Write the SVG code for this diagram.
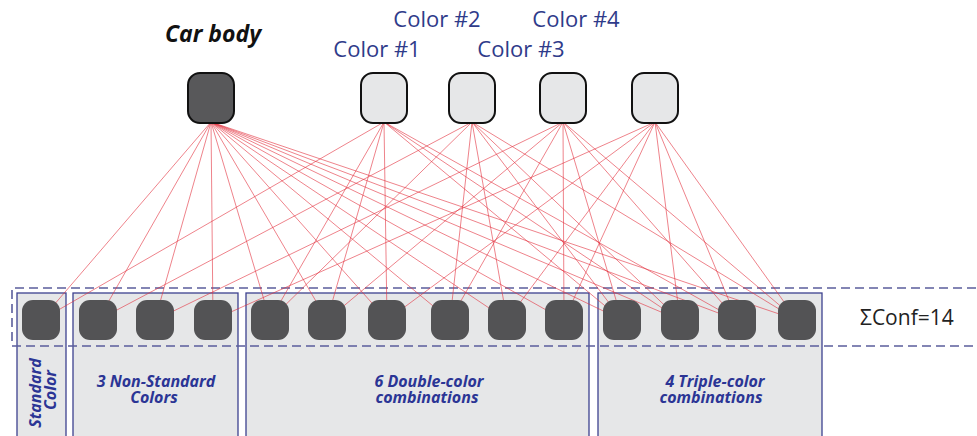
<svg xmlns="http://www.w3.org/2000/svg" width="977" height="436" viewBox="0 0 977 436">
  <style>
    .bg { fill: #ffffff; }
    .group-box { fill: #e6e7e8; stroke: #3d418f; stroke-width: 1.3; }
    .conf-band { fill: none; stroke: #5b5e9c; stroke-width: 1.6; stroke-dasharray: 9 5; }
    .edge { stroke: #e2313d; stroke-width: 0.75; stroke-opacity: 0.8; fill: none; }
    .top-dark { fill: #58585a; stroke: #111111; stroke-width: 2; }
    .top-light { fill: #e6e7e8; stroke: #111111; stroke-width: 2; }
    .conf { fill: #535355; }
    .title { font-family: "Open Sans", "Liberation Sans", sans-serif; font-weight: bold; font-style: italic; font-size: 23px; fill: #111111; text-anchor: middle; }
    .color-label { font-family: "Open Sans", "Liberation Sans", sans-serif; font-size: 22px; fill: #2f3b8a; text-anchor: middle; }
    .group-label { font-family: "Open Sans", "Liberation Sans", sans-serif; font-weight: bold; font-style: italic; font-size: 16px; fill: #2b3595; text-anchor: middle; }
    .sum { font-family: "Open Sans", "Liberation Sans", sans-serif; font-size: 21px; fill: #222222; }
  </style>

  <rect class="bg" x="0" y="0" width="977" height="436"/>

  <!-- configuration groups -->
  <g id="group-standard">
    <rect class="group-box" x="17" y="293" width="49" height="160"/>
    <text class="group-label" transform="translate(41,393) rotate(-90)">Standard</text>
    <text class="group-label" transform="translate(56,390) rotate(-90)">Color</text>
  </g>
  <g id="group-nonstandard">
    <rect class="group-box" x="73" y="293" width="165" height="160"/>
    <text class="group-label" x="156" y="387">3 Non-Standard</text>
    <text class="group-label" x="154" y="403">Colors</text>
  </g>
  <g id="group-double">
    <rect class="group-box" x="246" y="293" width="343" height="160"/>
    <text class="group-label" x="429" y="387">6 Double-color</text>
    <text class="group-label" x="427" y="403">combinations</text>
  </g>
  <g id="group-triple">
    <rect class="group-box" x="598" y="293" width="224" height="160"/>
    <text class="group-label" x="715" y="387">4 Triple-color</text>
    <text class="group-label" x="711" y="403">combinations</text>
  </g>

  <!-- dashed band around all configurations -->
  <g id="conf-band">
    <path class="conf-band" d="M990,288 H12 V346 H990"/>
    <text class="sum" x="860" y="325">ΣConf=14</text>
  </g>

  <!-- connectors: top nodes to configurations -->
  <g id="connectors">
    <!-- car body to every configuration -->
    <line class="edge" x1="211" y1="122" x2="41" y2="320"/>
    <line class="edge" x1="211" y1="122" x2="98" y2="320"/>
    <line class="edge" x1="211" y1="122" x2="155" y2="320"/>
    <line class="edge" x1="211" y1="122" x2="213" y2="320"/>
    <line class="edge" x1="211" y1="122" x2="270" y2="320"/>
    <line class="edge" x1="211" y1="122" x2="327" y2="320"/>
    <line class="edge" x1="211" y1="122" x2="387" y2="320"/>
    <line class="edge" x1="211" y1="122" x2="450" y2="320"/>
    <line class="edge" x1="211" y1="122" x2="507" y2="320"/>
    <line class="edge" x1="211" y1="122" x2="564" y2="320"/>
    <line class="edge" x1="211" y1="122" x2="622" y2="320"/>
    <line class="edge" x1="211" y1="122" x2="680" y2="320"/>
    <line class="edge" x1="211" y1="122" x2="737" y2="320"/>
    <line class="edge" x1="211" y1="122" x2="797" y2="320"/>
    <!-- color #1 -->
    <line class="edge" x1="384" y1="122" x2="41" y2="320"/>
    <line class="edge" x1="384" y1="122" x2="270" y2="320"/>
    <line class="edge" x1="384" y1="122" x2="327" y2="320"/>
    <line class="edge" x1="384" y1="122" x2="387" y2="320"/>
    <line class="edge" x1="384" y1="122" x2="622" y2="320"/>
    <line class="edge" x1="384" y1="122" x2="680" y2="320"/>
    <line class="edge" x1="384" y1="122" x2="737" y2="320"/>
    <!-- color #2 -->
    <line class="edge" x1="472" y1="122" x2="98" y2="320"/>
    <line class="edge" x1="472" y1="122" x2="270" y2="320"/>
    <line class="edge" x1="472" y1="122" x2="450" y2="320"/>
    <line class="edge" x1="472" y1="122" x2="507" y2="320"/>
    <line class="edge" x1="472" y1="122" x2="622" y2="320"/>
    <line class="edge" x1="472" y1="122" x2="680" y2="320"/>
    <line class="edge" x1="472" y1="122" x2="797" y2="320"/>
    <!-- color #3 -->
    <line class="edge" x1="563" y1="122" x2="155" y2="320"/>
    <line class="edge" x1="563" y1="122" x2="327" y2="320"/>
    <line class="edge" x1="563" y1="122" x2="450" y2="320"/>
    <line class="edge" x1="563" y1="122" x2="564" y2="320"/>
    <line class="edge" x1="563" y1="122" x2="622" y2="320"/>
    <line class="edge" x1="563" y1="122" x2="737" y2="320"/>
    <line class="edge" x1="563" y1="122" x2="797" y2="320"/>
    <!-- color #4 -->
    <line class="edge" x1="655" y1="122" x2="213" y2="320"/>
    <line class="edge" x1="655" y1="122" x2="387" y2="320"/>
    <line class="edge" x1="655" y1="122" x2="507" y2="320"/>
    <line class="edge" x1="655" y1="122" x2="564" y2="320"/>
    <line class="edge" x1="655" y1="122" x2="680" y2="320"/>
    <line class="edge" x1="655" y1="122" x2="737" y2="320"/>
    <line class="edge" x1="655" y1="122" x2="797" y2="320"/>
  </g>

  <!-- top nodes -->
  <g id="car-body">
    <rect class="top-dark" x="188" y="73" width="46" height="50" rx="12"/>
    <text class="title" x="213" y="42">Car body</text>
  </g>
  <g id="color-1">
    <rect class="top-light" x="361" y="73" width="46" height="50" rx="12"/>
    <text class="color-label" x="377" y="57">Color #1</text>
  </g>
  <g id="color-2">
    <rect class="top-light" x="449" y="73" width="46" height="50" rx="12"/>
    <text class="color-label" x="437" y="27">Color #2</text>
  </g>
  <g id="color-3">
    <rect class="top-light" x="540" y="73" width="46" height="50" rx="12"/>
    <text class="color-label" x="521" y="57">Color #3</text>
  </g>
  <g id="color-4">
    <rect class="top-light" x="632" y="73" width="46" height="50" rx="12"/>
    <text class="color-label" x="576" y="27">Color #4</text>
  </g>

  <!-- configuration nodes -->
  <g id="conf-1"><rect class="conf" x="22" y="300" width="38" height="40" rx="11"/></g>
  <g id="conf-2"><rect class="conf" x="79" y="300" width="38" height="40" rx="11"/></g>
  <g id="conf-3"><rect class="conf" x="136" y="300" width="38" height="40" rx="11"/></g>
  <g id="conf-4"><rect class="conf" x="194" y="300" width="38" height="40" rx="11"/></g>
  <g id="conf-5"><rect class="conf" x="251" y="300" width="38" height="40" rx="11"/></g>
  <g id="conf-6"><rect class="conf" x="308" y="300" width="38" height="40" rx="11"/></g>
  <g id="conf-7"><rect class="conf" x="368" y="300" width="38" height="40" rx="11"/></g>
  <g id="conf-8"><rect class="conf" x="431" y="300" width="38" height="40" rx="11"/></g>
  <g id="conf-9"><rect class="conf" x="488" y="300" width="38" height="40" rx="11"/></g>
  <g id="conf-10"><rect class="conf" x="545" y="300" width="38" height="40" rx="11"/></g>
  <g id="conf-11"><rect class="conf" x="603" y="300" width="38" height="40" rx="11"/></g>
  <g id="conf-12"><rect class="conf" x="661" y="300" width="38" height="40" rx="11"/></g>
  <g id="conf-13"><rect class="conf" x="718" y="300" width="38" height="40" rx="11"/></g>
  <g id="conf-14"><rect class="conf" x="778" y="300" width="38" height="40" rx="11"/></g>
</svg>
